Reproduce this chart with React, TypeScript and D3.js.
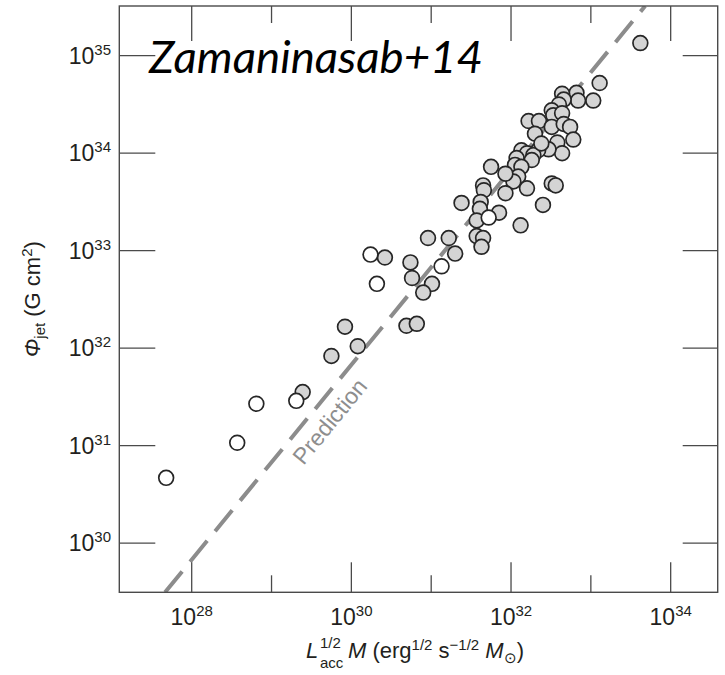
import React from "react";
import * as d3 from "d3";

// log10 values
const filledLogX = [
  33.62, 33.11, 33.03, 32.82, 32.84, 32.64, 32.66, 32.6, 32.51, 32.53, 32.64, 32.22, 32.35,
  32.51, 32.66, 32.74, 32.3, 32.78, 32.58, 32.64, 32.47, 32.34, 32.13, 32.2, 32.28, 32.26,
  32.07, 32.05, 32.13, 32.09, 32.03, 31.93, 31.75, 31.93, 32.2, 32.51, 32.56, 32.4, 32.12,
  31.85, 31.65, 31.66, 31.62, 31.61, 31.57, 31.38, 31.57, 31.65, 31.63, 31.3, 31.22, 30.96,
  30.74, 30.76, 31.01, 30.9, 30.69, 30.82, 30.42, 29.92, 30.08, 29.75, 29.39, 32.38,
];
const filledLogY = [
  35.13, 34.72, 34.54, 34.62, 34.54, 34.61, 34.55, 34.5, 34.44, 34.39, 34.41, 34.33, 34.33,
  34.27, 34.3, 34.27, 34.2, 34.14, 34.11, 34.0, 34.04, 34.03, 34.03, 34.0, 33.98, 33.93,
  33.95, 33.88, 33.86, 33.76, 33.71, 33.79, 33.86, 33.59, 33.64, 33.69, 33.67, 33.47, 33.26,
  33.39, 33.67, 33.62, 33.5, 33.43, 33.31, 33.49, 33.15, 33.13, 33.04, 32.97, 33.13, 33.13,
  32.88, 32.72, 32.66, 32.57, 32.23, 32.25, 32.93, 32.22, 32.02, 31.92, 31.55, 34.1,
];
const openLogX = [27.68, 28.57, 28.81, 29.31, 30.24, 30.32, 31.13, 31.72];
const openLogY = [30.67, 31.03, 31.43, 31.46, 32.96, 32.66, 32.84, 33.34];

const xMajorExp = [28, 30, 32, 34];
const xMinorExp = [29, 31, 33];
const yExp = [30, 31, 32, 33, 34, 35];
const xDomainExp = [27.093, 34.589];
const yDomainExp = [29.496, 35.51];
const predictionOffset = 1.83; // log Phi = log(L^1/2 M) + offset
const predictionLabelAt = [29.73, 31.25]; // log x, log y of label centre
const annotationText = "Zamaninasab+14";
const predictionText = "Prediction";

export default function App() {
  const W = 725;
  const H = 675;
  const left = 119.3;
  const right = 717.7;
  const top = 6;
  const bottom = 592.3;

  const x = d3.scaleLog().domain(xDomainExp.map((e) => 10 ** e)).range([left, right]);
  const y = d3.scaleLog().domain(yDomainExp.map((e) => 10 ** e)).range([bottom, top]);

  const predPts: [number, number][] = yDomainExp.map((e) => [10 ** (e - predictionOffset), 10 ** e]);
  const line = d3
    .line<[number, number]>()
    .x((d) => x(d[0]))
    .y((d) => y(d[1]));

  const lx = x(10 ** predictionLabelAt[0]);
  const ly = y(10 ** predictionLabelAt[1]);
  const angle = (Math.atan2(y(10 ** 30) - y(10 ** 31), x(10 ** 31) - x(10 ** 30)) * 180) / Math.PI;

  const axisColor = "#4a4a4a";
  const font = "'Liberation Sans', Arial, sans-serif";
  const tickFs = 23;
  const supFs = 15;
  const titleFs = 22;
  const smallFs = 15;

  const filled = filledLogX.map((v, i) => [v, filledLogY[i]]);
  const open = openLogX.map((v, i) => [v, openLogY[i]]);

  return (
    <svg
      width={W}
      height={H}
      style={{ position: "absolute", left: 0, top: 0, background: "#fff" }}
      fontFamily={font}
    >
      <defs>
        <clipPath id="plotclip">
          <rect x={left} y={top} width={right - left} height={bottom - top} />
        </clipPath>
      </defs>

      {/* prediction line */}
      <path
        d={line(predPts) || ""}
        clipPath="url(#plotclip)"
        fill="none"
        stroke="#8c8c8c"
        strokeWidth={4}
        strokeDasharray="27 12.5"
      />
      <text
        transform={`translate(${lx},${ly}) rotate(${-angle})`}
        textAnchor="middle"
        dominantBaseline="central"
        fontSize={23}
        fill="#8e8e8e"
      >
        {predictionText}
      </text>

      {/* points */}
      {filled.map((d, i) => (
        <circle
          key={"f" + i}
          cx={x(10 ** d[0])}
          cy={y(10 ** d[1])}
          r={7.4}
          fill="#d4d4d4"
          stroke="#262626"
          strokeWidth={1.7}
        />
      ))}
      {open.map((d, i) => (
        <circle
          key={"o" + i}
          cx={x(10 ** d[0])}
          cy={y(10 ** d[1])}
          r={7.4}
          fill="#ffffff"
          stroke="#262626"
          strokeWidth={1.7}
        />
      ))}

      {/* frame */}
      <rect x={left} y={top} width={right - left} height={bottom - top} fill="none" stroke={axisColor} strokeWidth={1.4} />

      {/* x ticks */}
      {xMajorExp.map((e) => (
        <g key={"xm" + e}>
          <line x1={x(10 ** e)} x2={x(10 ** e)} y1={bottom} y2={bottom - 30} stroke={axisColor} strokeWidth={1.3} />
          <line x1={x(10 ** e)} x2={x(10 ** e)} y1={top} y2={top + 35} stroke={axisColor} strokeWidth={1.3} />
          <text x={x(10 ** e)} y={625} textAnchor="middle" fontSize={tickFs} fill="#231f20">
            10
            <tspan dy={-9} fontSize={supFs}>
              {e}
            </tspan>
          </text>
        </g>
      ))}
      {xMinorExp.map((e) => (
        <g key={"xn" + e}>
          <line x1={x(10 ** e)} x2={x(10 ** e)} y1={bottom} y2={bottom - 17} stroke={axisColor} strokeWidth={1.3} />
          <line x1={x(10 ** e)} x2={x(10 ** e)} y1={top} y2={top + 17} stroke={axisColor} strokeWidth={1.3} />
        </g>
      ))}

      {/* y ticks */}
      {yExp.map((e) => (
        <g key={"y" + e}>
          <line x1={left} x2={left + 36} y1={y(10 ** e)} y2={y(10 ** e)} stroke={axisColor} strokeWidth={1.3} />
          <line x1={right} x2={right - 35} y1={y(10 ** e)} y2={y(10 ** e)} stroke={axisColor} strokeWidth={1.3} />
          <text x={111} y={y(10 ** e) + 8} textAnchor="end" fontSize={tickFs} fill="#231f20">
            10
            <tspan dy={-9} fontSize={supFs}>
              {e}
            </tspan>
          </text>
        </g>
      ))}

      {/* x title: stacked sup/sub drawn as separate texts */}
      <g fontSize={titleFs} fill="#231f20">
        <text x={306} y={658} fontStyle="italic">L</text>
        <text x={320} y={648} fontSize={smallFs}>1/2</text>
        <text x={320} y={668} fontSize={smallFs}>acc</text>
        <text x={348} y={658}>
          <tspan fontStyle="italic">M</tspan>
          <tspan> (erg</tspan>
          <tspan dy={-8} fontSize={smallFs}>1/2</tspan>
          <tspan dy={8}> s</tspan>
          <tspan dy={-8} fontSize={smallFs}>−1/2</tspan>
          <tspan dy={8} fontStyle="italic"> M</tspan>
          <tspan dy={5} fontSize={smallFs}>⊙</tspan>
          <tspan dy={-5}>)</tspan>
        </text>
      </g>

      {/* y title */}
      <text transform={`translate(40,${(top + bottom) / 2}) rotate(-90)`} textAnchor="middle" fontSize={titleFs} fill="#231f20">
        <tspan fontStyle="italic">Φ</tspan>
        <tspan dy={5} fontSize={smallFs}>jet</tspan>
        <tspan dy={-5}> (G cm</tspan>
        <tspan dy={-8} fontSize={smallFs}>2</tspan>
        <tspan dy={8}>)</tspan>
      </text>

      {/* annotation */}
      <text
        x={149}
        y={73}
        fontFamily="Lato, 'Open Sans', sans-serif"
        fontStyle="italic"
        fontSize={44}
        fill="#000"
        textLength={334}
        lengthAdjust="spacingAndGlyphs"
      >
        {annotationText}
      </text>
    </svg>
  );
}
